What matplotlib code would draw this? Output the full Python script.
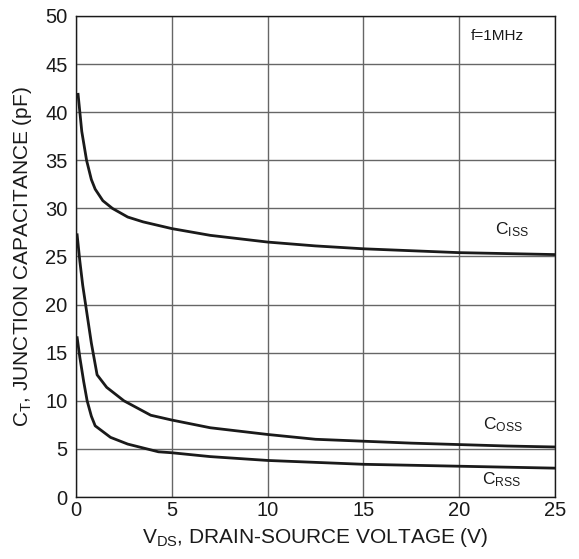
import matplotlib
matplotlib.use("Agg")
import matplotlib.pyplot as plt

plt.rcParams['font.family'] = ['Liberation Sans', 'DejaVu Sans']
plt.rcParams['mathtext.default'] = 'regular'

# Data
v_ciss = [0.1, 0.3, 0.55, 0.8, 1.0, 1.4, 1.9, 2.7, 3.5, 5, 7, 10, 12.5, 15, 17.5, 20, 22.5, 25]
ciss   = [42.0, 38.0, 35.0, 33.0, 32.0, 30.8, 30.0, 29.1, 28.6, 27.9, 27.2, 26.5, 26.1, 25.8, 25.6, 25.4, 25.3, 25.2]

v_coss = [0.05, 0.2, 0.35, 0.5, 0.8, 1.1, 1.6, 2.5, 3.9, 5, 7, 10, 12.5, 15, 17.5, 20, 22.5, 25]
coss   = [27.4, 24.5, 22.0, 20.0, 16.0, 12.7, 11.4, 10.0, 8.5, 8.0, 7.2, 6.5, 6.0, 5.8, 5.6, 5.45, 5.3, 5.2]

v_crss = [0.05, 0.2, 0.4, 0.58, 0.8, 1.0, 1.8, 2.7, 4.3, 5, 7, 10, 12.5, 15, 17.5, 20, 22.5, 25]
crss   = [16.7, 14.5, 12.0, 10.0, 8.4, 7.4, 6.2, 5.5, 4.7, 4.6, 4.2, 3.8, 3.6, 3.4, 3.3, 3.2, 3.1, 3.0]

x_ticks = [0, 5, 10, 15, 20, 25]
y_ticks = [0, 5, 10, 15, 20, 25, 30, 35, 40, 45, 50]

fig = plt.figure(figsize=(5.79, 5.59), dpi=100)
ax = fig.add_axes([0.1313, 0.1109, 0.8273, 0.8605])

for v, c in [(v_ciss, ciss), (v_coss, coss), (v_crss, crss)]:
    ax.plot(v, c, color='#1a1a1a', lw=2.0, solid_capstyle='butt', zorder=3)

ax.set_xlim(0, 25)
ax.set_ylim(0, 50)
ax.set_xticks(x_ticks)
ax.set_yticks(y_ticks)
ax.grid(True, color='#666666', lw=1.0, zorder=0)
ax.tick_params(axis='x', length=0, labelsize=14.5, pad=3, colors='#1a1a1a')
ax.tick_params(axis='y', length=0, labelsize=14.5, pad=6, colors='#1a1a1a')
for s in ax.spines.values():
    s.set_color('#1a1a1a')
    s.set_linewidth(1.0)

ax.set_xlabel('V$_{DS}$, DRAIN-SOURCE VOLTAGE (V)', fontsize=15.0, color='#1a1a1a', labelpad=4)
ax.set_ylabel('C$_{T}$, JUNCTION CAPACITANCE (pF)', fontsize=15.0, color='#1a1a1a', labelpad=8)

ax.text(22.0, 47.9, 'f=1MHz', fontsize=11, ha='center', va='center', color='#1a1a1a')
ax.text(22.75, 27.3, 'C$_{ISS}$', fontsize=12.5, ha='center', va='baseline', color='#1a1a1a')
ax.text(22.3, 7.0, 'C$_{OSS}$', fontsize=12.5, ha='center', va='baseline', color='#1a1a1a')
ax.text(22.2, 1.35, 'C$_{RSS}$', fontsize=12.5, ha='center', va='baseline', color='#1a1a1a')

fig.savefig('out.png', dpi=100)
